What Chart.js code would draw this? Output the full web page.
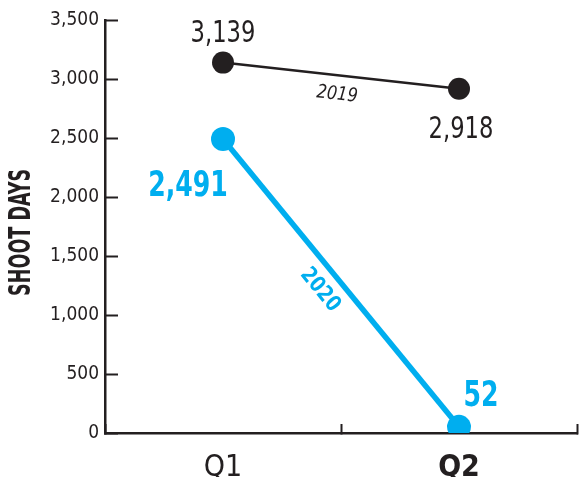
<!DOCTYPE html>
<html>
<head>
<meta charset="utf-8">
<script src="https://cdn.jsdelivr.net/npm/chart.js@4.4.1/dist/chart.umd.min.js"></script>
<style>
  html, body { margin: 0; padding: 0; background: #fff; }
  #wrap { width: 579px; height: 477px; }
</style>
</head>
<body>
<div id="wrap"><canvas id="shoot-chart"></canvas></div>
<script>
const quarters = ["Q1", "Q2"];
const days2019 = [3139, 2918];
const days2020 = [2491, 52];
const yTicks = [0, 500, 1000, 1500, 2000, 2500, 3000, 3500];

const ink = "#231f20";
const blue = "#00aeef";
const narrow = "'DejaVu Sans Condensed', 'Liberation Sans Narrow', sans-serif";

// draws squeezed text (the original uses a very narrow face)
function squeeze(ctx, s, x, y, font, color, sx, angle) {
  ctx.save();
  ctx.translate(x, y);
  if (angle) ctx.rotate(angle);
  ctx.scale(sx, 1);
  ctx.font = font;
  ctx.fillStyle = color;
  ctx.fillText(s, 0, 0);
  ctx.restore();
}

const pointLabels = {
  id: "pointLabels",
  afterDatasetsDraw(chart) {
    const ctx = chart.ctx;
    const a = chart.getDatasetMeta(0).data;
    const b = chart.getDatasetMeta(1).data;
    const fmt = v => v.toLocaleString("en-US");
    ctx.save();
    ctx.textAlign = "center";
    ctx.textBaseline = "alphabetic";

    squeeze(ctx, fmt(days2019[0]), a[0].x, a[0].y - 21, "30px " + narrow, ink, 0.84);
    squeeze(ctx, fmt(days2019[1]), a[1].x + 2, a[1].y + 49, "30px " + narrow, ink, 0.84);
    squeeze(ctx, fmt(days2020[0]), b[0].x - 35, b[0].y + 57, "bold 35px " + narrow, blue, 0.8);
    squeeze(ctx, fmt(days2020[1]), b[1].x + 22, b[1].y - 21, "bold 35px " + narrow, blue, 0.8);

    // series names along the lines
    ctx.textBaseline = "middle";
    let ang = Math.atan2(a[1].y - a[0].y, a[1].x - a[0].x);
    squeeze(ctx, "2019", (a[0].x + a[1].x) / 2 - 4, (a[0].y + a[1].y) / 2 + 19,
      "italic 19px " + narrow, ink, 0.95, ang);
    ang = Math.atan2(b[1].y - b[0].y, b[1].x - b[0].x);
    squeeze(ctx, "2020", (b[0].x + b[1].x) / 2 - 21, (b[0].y + b[1].y) / 2 + 7,
      "bold 22px " + narrow, blue, 0.9, ang);
    ctx.restore();
  }
};

const axisTitle = {
  id: "axisTitle",
  afterDraw(chart) {
    const ctx = chart.ctx;
    const y = chart.scales.y;
    ctx.save();
    ctx.textAlign = "center";
    ctx.textBaseline = "middle";
    ctx.font = "bold 31px " + narrow;
    const w = ctx.measureText("SHOOT DAYS").width;
    squeeze(ctx, "SHOOT DAYS", 22, y.getPixelForValue(1700), ctx.font, ink, 127 / w, -Math.PI / 2);
    ctx.restore();
  }
};

new Chart(document.getElementById("shoot-chart"), {
  type: "line",
  data: {
    labels: quarters,
    datasets: [
      {
        label: "2019",
        data: days2019,
        borderColor: ink,
        backgroundColor: ink,
        borderWidth: 2.5,
        pointRadius: 11,
        pointBorderWidth: 0,
        pointBackgroundColor: ink
      },
      {
        label: "2020",
        data: days2020,
        borderColor: blue,
        backgroundColor: blue,
        borderWidth: 5.5,
        pointRadius: 12,
        pointBorderWidth: 0,
        pointBackgroundColor: blue
      }
    ]
  },
  options: {
    responsive: true,
    maintainAspectRatio: false,
    animation: false,
    layout: { autoPadding: false, padding: { top: 20, right: 2, left: 0, bottom: 0 } },
    plugins: {
      legend: { display: false },
      tooltip: { enabled: false }
    },
    scales: {
      x: {
        offset: true,
        grid: {
          offset: true,
          drawOnChartArea: false,
          tickLength: -9,
          tickWidth: 2,
          tickColor: ink
        },
        border: { color: ink, width: 2.5 },
        ticks: {
          padding: 26,
          color: ink,
          font: ctx => ({
            family: narrow,
            size: 30,
            weight: ctx.index === 1 ? "bold" : "normal"
          })
        },
        afterFit: s => {
          s.height = 44;
          s.paddingLeft = 0;
          s.paddingRight = 0;
        }
      },
      y: {
        min: 0,
        max: 3500,
        afterBuildTicks: s => { s.ticks = yTicks.map(v => ({ value: v })); },
        grid: {
          drawOnChartArea: false,
          tickLength: -13,
          tickWidth: 2,
          tickColor: ink
        },
        border: { color: ink, width: 2.5 },
        ticks: {
          padding: 19,
          color: ink,
          font: { family: narrow, size: 19 },
          callback: v => v.toLocaleString("en-US")
        },
        afterFit: s => {
          s.width = 105;
          s.paddingTop = 0;
          s.paddingBottom = 0;
        }
      }
    }
  },
  plugins: [pointLabels, axisTitle]
});
</script>
</body>
</html>
